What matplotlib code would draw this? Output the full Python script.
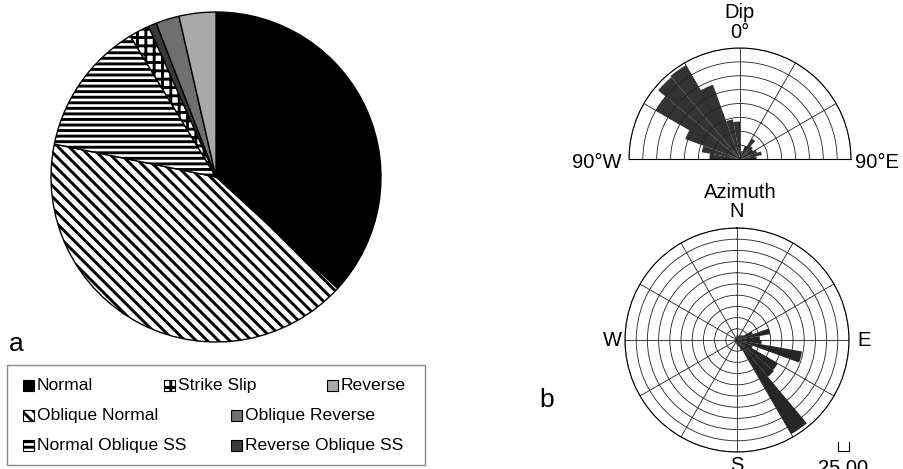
import numpy as np
import matplotlib
matplotlib.use("Agg")
import matplotlib.pyplot as plt
from matplotlib.patches import Rectangle
from matplotlib.lines import Line2D

plt.rcParams['font.family'] = ['Liberation Sans', 'DejaVu Sans']
plt.rcParams['hatch.linewidth'] = 2.1

# Pie: fault types (percent), clockwise from 12 o'clock
kategorier = ["Normal", "Oblique Normal", "Normal Oblique SS", "Strike Slip",
              "Reverse Oblique SS", "Oblique Reverse", "Reverse"]
andeler = [36.8, 41.4, 13.1, 2.0, 0.8, 2.3, 3.6]
farger = ["black", "white", "white", "white", "#3a3a3a", "#6f6f6f", "#a9a9a9"]
skravur = ["", "\\\\\\", "---", "++", "", "", ""]

# Dip rose: 10 degree bins, negative = west, positive = east
dip_senter = [-85, -75, -65, -55, -45, -35, -25, -15, -5,
              5, 15, 25, 35, 45, 55, 65, 75, 85]
dip_verdi = [2.2, 2.8, 4.2, 7.0, 7.7, 7.8, 5.7, 2.9, 2.7,
             0.4, 0.6, 1.0, 1.7, 1.2, 1.1, 1.3, 1.6, 1.2]

# Azimuth rose: 10 degree bins from north, clockwise
asi_senter = list(range(5, 360, 10))
asi_verdi = [0.4, 0.4, 0.5, 0.5, 0.6, 0.7, 1.5, 3.0, 2.0,
             2.2, 5.9, 1.5, 4.2, 4.3, 9.7, 1.0, 0.6, 0.5,
             0.4, 0.3, 0.3, 0.2, 0.2, 0.2, 0.2, 0.2, 0.2,
             0.2, 0.2, 0.2, 0.2, 0.2, 0.2, 0.3, 0.3, 0.4]

W, H = 904, 469
def fx(x):
    return x / W
def fy(y):
    return 1 - y / H

fig = plt.figure(figsize=(W / 100, H / 100), dpi=100)

# --- a) kakediagram
ax = fig.add_axes([fx(51), fy(342), 330 / W, 330 / H])
ax.pie(andeler, startangle=90, counterclock=False, colors=farger, hatch=skravur,
       wedgeprops=dict(edgecolor="black", linewidth=1.0))
ax.set_xlim(-1, 1)
ax.set_ylim(-1, 1)
ax.set_aspect("equal")
ax.axis("off")

fig.text(fx(9), fy(351), "a", fontsize=19, ha="left", va="baseline")

# legend box, laget for hand
fig.add_artist(Rectangle((fx(7), fy(465)), 418 / W, 100 / H, transform=fig.transFigure,
                         facecolor="white", edgecolor="#888888", linewidth=1.0))
pos = {"Normal": (23, 385), "Strike Slip": (164, 385), "Reverse": (327, 385),
       "Oblique Normal": (23, 415), "Oblique Reverse": (231, 415),
       "Normal Oblique SS": (23, 445), "Reverse Oblique SS": (231, 445)}
for navn, farge, sk in zip(kategorier, farger, skravur):
    x, y = pos[navn]
    fig.add_artist(Rectangle((fx(x), fy(y + 5.5)), 11 / W, 11 / H, transform=fig.transFigure,
                             facecolor=farge, edgecolor="black", hatch=sk, linewidth=0.8))
    fig.text(fx(x + 14), fy(y), navn, fontsize=12.6, ha="left", va="center")

# --- b) dip rose (square box, the half disk sits in the middle of it)
axd = fig.add_axes([fx(629), fy(214.5), 222 / W, 222 / H], projection="polar")
axd.set_theta_zero_location("N")
axd.set_theta_direction(-1)
axd.set_thetamin(-90)
axd.set_thetamax(90)
axd.bar(np.deg2rad(dip_senter), dip_verdi, width=np.deg2rad(10),
        color="#333333", edgecolor="none")
axd.set_ylim(0, 8)
axd.set_rticks(range(1, 9))
axd.set_yticklabels([])
axd.set_thetagrids(np.arange(-90, 91, 30), labels=[])
axd.grid(color="#222222", linewidth=0.6)
axd.spines["polar"].set_linewidth(0.8)
for s in ["start", "end"]:
    axd.spines[s].set_linewidth(0.8)

fig.text(fx(740), fy(13), "Dip", fontsize=14.5, ha="center", va="center")
fig.text(fx(740), fy(33), "0°", fontsize=14.5, ha="center", va="center")
fig.text(fx(597), fy(162), "90°W", fontsize=14.5, ha="center", va="center")
fig.text(fx(877), fy(162), "90°E", fontsize=14.5, ha="center", va="center")

# --- azimuth rose
axa = fig.add_axes([fx(625), fy(452), 224 / W, 224 / H], projection="polar")
axa.set_theta_zero_location("N")
axa.set_theta_direction(-1)
axa.bar(np.deg2rad(asi_senter), asi_verdi, width=np.deg2rad(10),
        color="#262626", edgecolor="none")
axa.set_ylim(0, 10)
axa.set_rticks(range(1, 11))
axa.set_yticklabels([])
axa.set_thetagrids(np.arange(0, 360, 30), labels=[])
axa.grid(color="#222222", linewidth=0.6)
axa.spines["polar"].set_linewidth(0.8)

fig.text(fx(740), fy(192), "Azimuth", fontsize=14.5, ha="center", va="center")
fig.text(fx(737), fy(211), "N", fontsize=14.5, ha="center", va="center")
fig.text(fx(612), fy(340), "W", fontsize=14.5, ha="center", va="center")
fig.text(fx(864), fy(340), "E", fontsize=14.5, ha="center", va="center")
fig.text(fx(737), fy(456), "S", fontsize=14.5, ha="center", va="top")
fig.text(fx(818), fy(459), "25.00", fontsize=14.5, ha="left", va="top")
fig.add_artist(Line2D([fx(838), fx(838), fx(849), fx(849)], [fy(442), fy(451), fy(451), fy(442)],
                      transform=fig.transFigure, color="black", linewidth=0.8))

fig.text(fx(539), fy(407), "b", fontsize=19, ha="left", va="baseline")

fig.savefig("out.png", dpi=100)
